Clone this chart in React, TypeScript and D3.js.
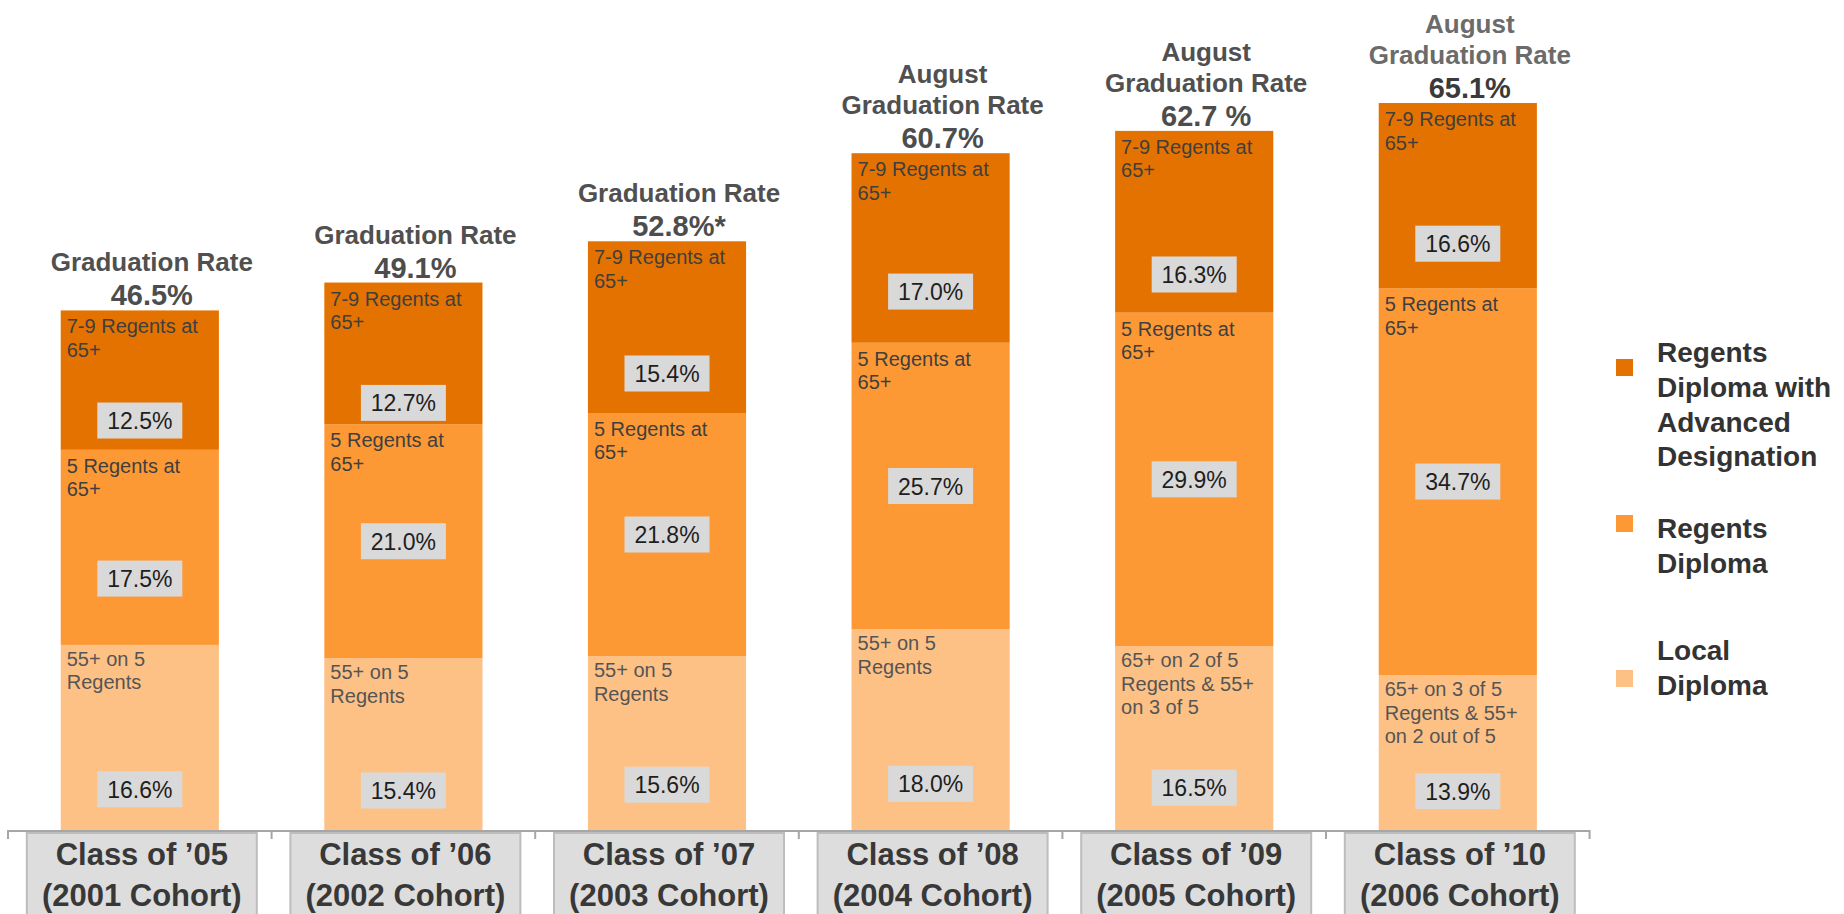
import React from "react";
import * as d3 from "d3";

// ---- data ----
const classLabels = ["Class of ’05", "Class of ’06", "Class of ’07", "Class of ’08", "Class of ’09", "Class of ’10"];
const cohortLabels = ["(2001 Cohort)", "(2002 Cohort)", "(2003 Cohort)", "(2004 Cohort)", "(2005 Cohort)", "(2006 Cohort)"];
const localDiploma = [16.6, 15.4, 15.6, 18.0, 16.5, 13.9];
const regentsDiploma = [17.5, 21.0, 21.8, 25.7, 29.9, 34.7];
const advancedDiploma = [12.5, 12.7, 15.4, 17.0, 16.3, 16.6];
const rateLabels = ["46.5%", "49.1%", "52.8%*", "60.7%", "62.7 %", "65.1%"];
const rateTitles = [
  ["Graduation Rate"],
  ["Graduation Rate"],
  ["Graduation Rate"],
  ["August", "Graduation Rate"],
  ["August", "Graduation Rate"],
  ["August", "Graduation Rate"],
];
const advancedText = ["7-9 Regents at", "65+"];
const regentsText = ["5 Regents at", "65+"];
const localText = [
  ["55+ on 5", "Regents"],
  ["55+ on 5", "Regents"],
  ["55+ on 5", "Regents"],
  ["55+ on 5", "Regents"],
  ["65+ on 2 of 5", "Regents & 55+", "on 3 of 5"],
  ["65+ on 3 of 5", "Regents & 55+", "on 2 out of 5"],
];
const seriesKeys = ["local", "regents", "advanced"];
const legendNames = [
  ["Regents", "Diploma with", "Advanced", "Designation"],
  ["Regents", "Diploma"],
  ["Local", "Diploma"],
];

// label placement within segments (fraction from segment bottom)
const labelFrac: Record<string, number[]> = {
  local: [0.22, 0.23, 0.26, 0.23, 0.23, 0.25],
  regents: [0.34, 0.5, 0.5, 0.5, 0.5, 0.5],
  advanced: [0.21, 0.15, 0.23, 0.27, 0.21, 0.24],
};

const colors: Record<string, string> = {
  advanced: "#E47200",
  regents: "#FD9935",
  local: "#FDC186",
};
const FONT = "'Liberation Sans', Arial, sans-serif";

export default function App() {
  const W = 1844;
  const H = 914;
  const baseY = 830;
  const rows = classLabels.map((c, i) => ({
    cat: c,
    local: localDiploma[i],
    regents: regentsDiploma[i],
    advanced: advancedDiploma[i],
  }));
  const stack = d3.stack<any>().keys(seriesKeys)(rows);

  const x = d3.scaleBand<string>().domain(classLabels).range([8, 8 + 6 * 263.6]).paddingInner(0).paddingOuter(0);
  const y = d3.scaleLinear().domain([0, 70]).range([baseY, baseY - 70 * 11.15]);
  const bw = x.bandwidth() * 0.6;
  const cx = (c: string) => (x(c) as number) + x.bandwidth() / 2;

  const segText: Record<string, (i: number) => string[]> = {
    advanced: () => advancedText,
    regents: () => regentsText,
    local: (i) => localText[i],
  };

  const legendLayout = [
    { sq: 359, ty: 362 },
    { sq: 515, ty: 538 },
    { sq: 670, ty: 660 },
  ];
  const legendKeys = ["advanced", "regents", "local"];

  return (
    <svg width={W} height={H} style={{ position: "absolute", left: 0, top: 0, display: "block" }} fontFamily={FONT}>
      <rect width={W} height={H} fill="#ffffff" />
      {/* bars */}
      {stack.map((s) => (
        <g key={s.key}>
          {s.map((d, i) => {
            const c = classLabels[i];
            const x0 = cx(c) - bw / 2;
            const yTop = y(d[1]);
            const yBot = y(d[0]);
            return (
              <rect key={c} x={x0} y={yTop} width={bw} height={yBot - yTop} fill={colors[s.key]} />
            );
          })}
        </g>
      ))}
      {/* segment texts */}
      {stack.map((s) => (
        <g key={s.key + "t"}>
          {s.map((d, i) => {
            const c = classLabels[i];
            const x0 = cx(c) - bw / 2;
            const yTop = y(d[1]);
            const lines = segText[s.key](i);
            const off = s.key === "local" ? 21 : 23;
            return (
              <text key={c} x={x0 + 6} y={yTop + off} fontSize={20} fill={s.key === "local" ? "#555555" : "#3f3f3f"}>
                {lines.map((l, k) => (
                  <tspan key={k} x={x0 + 6} dy={k === 0 ? 0 : 23.5}>
                    {l}
                  </tspan>
                ))}
              </text>
            );
          })}
        </g>
      ))}
      {/* value labels */}
      {stack.map((s) => (
        <g key={s.key + "v"}>
          {s.map((d, i) => {
            const c = classLabels[i];
            const f = labelFrac[s.key][i];
            const v = d[0] + (d[1] - d[0]) * f;
            const yc = y(v);
            const val = (d[1] - d[0]).toFixed(1) + "%";
            return (
              <g key={c}>
                <rect x={cx(c) - 42.5} y={yc - 18} width={85} height={36} fill="#d9d9d9" />
                <text x={cx(c)} y={yc + 8.5} textAnchor="middle" fontSize={23} fill="#1e1e1e">
                  {val}
                </text>
              </g>
            );
          })}
        </g>
      ))}
      {/* titles */}
      {classLabels.map((c, i) => {
        const top = y(stack[2][i][1]);
        const tx = cx(c) + 12;
        const pctY = top - 5;
        const lines = rateTitles[i];
        const last = i === classLabels.length - 1;
        return (
          <g key={c + "title"} fontWeight="bold" textAnchor="middle">
            {lines.map((l, k) => {
              const fromBottom = lines.length - k;
              const ly = pctY - 34 - (fromBottom - 1) * 31;
              return (
                <text key={k} x={tx} y={ly} fontSize={26} fill={last ? "#6b6b6b" : "#505050"}>
                  {l}
                </text>
              );
            })}
            <text x={tx} y={pctY} fontSize={29} fill={last ? "#3a3a3a" : "#4d4d4d"}>
              {rateLabels[i]}
            </text>
          </g>
        );
      })}
      {/* axis */}
      <line x1={8} x2={8 + 6 * 263.6} y1={831} y2={831} stroke="#a6a6a6" strokeWidth={2} />
      {d3.range(7).map((k) => {
        const tx = 8 + k * 263.6;
        return <line key={k} x1={tx} x2={tx} y1={830} y2={839} stroke="#a6a6a6" strokeWidth={2} />;
      })}
      {/* category boxes */}
      {classLabels.map((c, i) => {
        const center = cx(c) + 2;
        return (
          <g key={c + "cat"}>
            <rect x={center - 115} y={833} width={230} height={100} fill="#dddddd" stroke="#bdbdbd" strokeWidth={2} />
            <text x={center} y={865} textAnchor="middle" fontWeight="bold" fontSize={31} fill="#383838">
              {c}
            </text>
            <text x={center} y={906} textAnchor="middle" fontWeight="bold" fontSize={31} fill="#383838">
              {cohortLabels[i]}
            </text>
          </g>
        );
      })}
      {/* legend */}
      {legendKeys.map((k, i) => (
        <g key={k + "leg"}>
          <rect x={1616} y={legendLayout[i].sq} width={17} height={17} fill={colors[k]} />
          <text x={1657} y={legendLayout[i].ty} fontWeight="bold" fontSize={28} fill="#333333">
            {legendNames[i].map((l, j) => (
              <tspan key={j} x={1657} dy={j === 0 ? 0 : 34.8}>
                {l}
              </tspan>
            ))}
          </text>
        </g>
      ))}
    </svg>
  );
}
